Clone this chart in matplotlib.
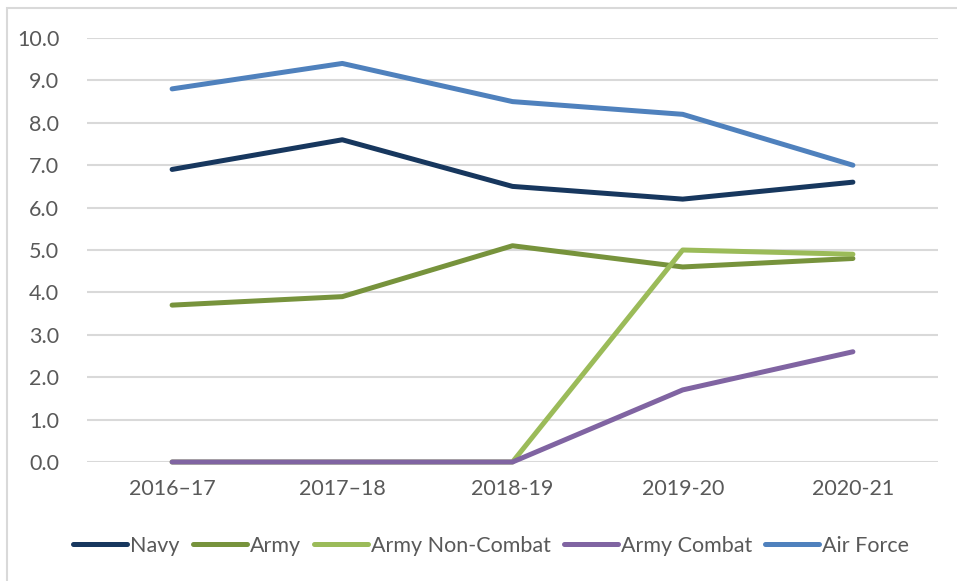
import matplotlib.pyplot as plt
from matplotlib.patches import Rectangle

years = ["2016–17", "2017–18", "2018-19", "2019-20", "2020-21"]
navy = [6.9, 7.6, 6.5, 6.2, 6.6]
army = [3.7, 3.9, 5.1, 4.6, 4.8]
army_non_combat = [0.0, 0.0, 0.0, 5.0, 4.9]
army_combat = [0.0, 0.0, 0.0, 1.7, 2.6]
air_force = [8.8, 9.4, 8.5, 8.2, 7.0]

series = [
    ("Navy", navy, "#17375E"),
    ("Army", army, "#77933C"),
    ("Army Non-Combat", army_non_combat, "#9BBB59"),
    ("Army Combat", army_combat, "#8064A2"),
    ("Air Force", air_force, "#4F81BD"),
]

plt.rcParams['font.family'] = ['Lato', 'DejaVu Sans']
txt = "#595959"

fig = plt.figure(figsize=(9.57, 5.81), dpi=100)
# chart frame
fig.patches.append(Rectangle((7 / 957, -0.1), 1.2, 1 - 8 / 581 + 0.1,
                             transform=fig.transFigure, fill=False,
                             edgecolor="#D9D9D9", linewidth=1.5))

ax = fig.add_axes([87 / 957, 1 - 462 / 581, (938 - 87) / 957, (462 - 38) / 581])
x = list(range(len(years)))
for name, vals, col in series:
    ax.plot(x, vals, color=col, linewidth=3.6, label=name, clip_on=False,
            solid_capstyle='round', solid_joinstyle='round', zorder=3)

ax.set_xlim(-0.5, len(years) - 0.5)
ax.set_ylim(0, 10)
ax.set_yticks([i for i in range(11)])
ax.set_yticklabels([f"{i:.1f}" for i in range(11)])
ax.set_xticks(x)
ax.set_xticklabels(years)
ax.grid(axis='y', color="#D9D9D9", linewidth=1.5, zorder=0)
for s in ax.spines.values():
    s.set_visible(False)
ax.tick_params(length=0, labelsize=15.5, colors=txt, pad=12)
ax.tick_params(axis='y', pad=20)

leg = ax.legend(loc='upper center', bbox_to_anchor=(0.475, -0.128), ncol=5,
                frameon=False, fontsize=15.5, handlelength=2.5,
                handletextpad=0.15, columnspacing=0.6)
for t in leg.get_texts():
    t.set_color(txt)

fig.savefig("out.png", dpi=100)
